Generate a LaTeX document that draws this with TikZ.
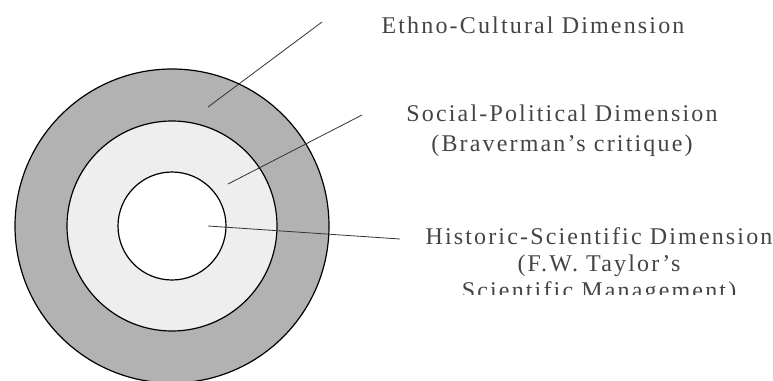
\documentclass[tikz,border=0pt]{standalone}
\usepackage{fontspec}
\setmainfont{Liberation Serif}
\newfontfamily\dimfont[LetterSpace=9]{Liberation Serif}
\usetikzlibrary{positioning}
\definecolor{ringdark}{HTML}{B2B2B2}
\definecolor{ringlight}{HTML}{EEEEEE}
\definecolor{inktext}{HTML}{444444}
\tikzset{
  ring/.style={circle, draw=black, line width=1.2pt, inner sep=0pt},
  leader/.style={draw=black!80, line width=0.8pt},
  dimlabel/.style={text=inktext, align=center, inner sep=0pt,
    font=\dimfont\fontsize{24}{27}\selectfont}
}
\begin{document}
\begin{tikzpicture}[x=1pt,y=-1pt]
    \useasboundingbox (0,0) rectangle (773,380);

    % the three dimensions as nested rings
    \node[ring, fill=ringdark, minimum size=314pt] (outer) at (172,226) {};
    \node[ring, fill=ringlight, minimum size=210pt] (middle) at (172,226) {};
    \node[ring, fill=white, minimum size=108pt] (inner) at (172,226) {};

    % labels
    \node[dimlabel] (ethno) at (533,25) {Ethno-Cultural Dimension};
    \node[dimlabel] (social) at (562,131) {Social-Political Dimension\\[3pt](Braverman’s critique)};
    \begin{scope}
      \clip (380,0) rectangle (773,294);
      \node[dimlabel] (historic) at (599,266) {Historic-Scientific Dimension\\(F.W. Taylor’s\\Scientific Management)};
    \end{scope}

    % leader lines
    \coordinate (ethno-in) at (208,107);
    \coordinate (ethno-out) at (322,22);
    \coordinate (social-in) at (228,184);
    \coordinate (social-out) at (362,115);
    \coordinate (historic-in) at (208,226);
    \coordinate (historic-out) at (400,239);
    \foreach \d in {ethno,social,historic}{
      \draw[leader] (\d-in) -- (\d-out);
    }
\end{tikzpicture}
\end{document}
